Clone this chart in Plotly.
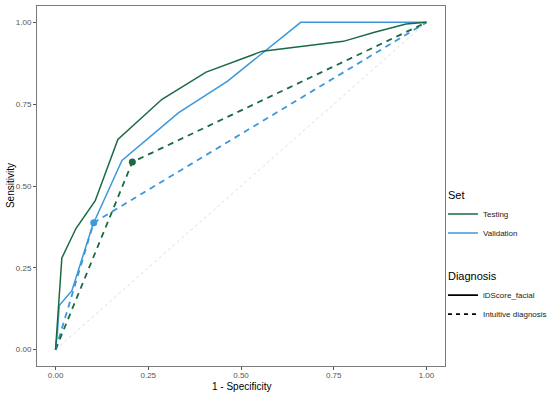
import plotly.graph_objects as go

# Testing, iDScore_facial (solid)
test_fpr = [0.0, 0.008, 0.013, 0.017, 0.055, 0.107, 0.168, 0.287, 0.406, 0.558, 0.776, 0.86, 0.945, 1.0]
test_tpr = [0.0, 0.12, 0.195, 0.28, 0.37, 0.455, 0.642, 0.765, 0.848, 0.912, 0.942, 0.97, 0.995, 1.0]
# Validation, iDScore_facial (solid)
val_fpr = [0.0, 0.005, 0.01, 0.044, 0.10, 0.179, 0.332, 0.463, 0.661, 1.0]
val_tpr = [0.0, 0.05, 0.135, 0.18, 0.38, 0.578, 0.724, 0.82, 1.0, 1.0]
# Intuitive diagnosis (dashed) with operating point
test_int_fpr = [0.0, 0.207, 1.0]
test_int_tpr = [0.0, 0.573, 1.0]
val_int_fpr = [0.0, 0.103, 1.0]
val_int_tpr = [0.0, 0.388, 1.0]
diag = [0.0, 1.0]

tickvals = [0.0, 0.25, 0.5, 0.75, 1.0]
ticktext = ["0.00", "0.25", "0.50", "0.75", "1.00"]

GREEN = "#1a6b43"
BLUE = "#3b98dc"

fig = go.Figure()
fig.add_trace(go.Scatter(x=diag, y=diag, mode="lines",
                         line=dict(color="#dedede", width=1, dash="dot"), showlegend=False))
fig.add_trace(go.Scatter(x=val_int_fpr, y=val_int_tpr, mode="lines",
                         line=dict(color=BLUE, width=1.8, dash="6px,5px"), showlegend=False))
fig.add_trace(go.Scatter(x=test_int_fpr, y=test_int_tpr, mode="lines",
                         line=dict(color=GREEN, width=1.8, dash="6px,5px"), showlegend=False))
fig.add_trace(go.Scatter(x=val_fpr, y=val_tpr, mode="lines",
                         line=dict(color=BLUE, width=1.5), showlegend=False))
fig.add_trace(go.Scatter(x=test_fpr, y=test_tpr, mode="lines",
                         line=dict(color=GREEN, width=1.5), showlegend=False))
fig.add_trace(go.Scatter(x=[val_int_fpr[1]], y=[val_int_tpr[1]], mode="markers",
                         marker=dict(color=BLUE, size=7), showlegend=False))
fig.add_trace(go.Scatter(x=[test_int_fpr[1]], y=[test_int_tpr[1]], mode="markers",
                         marker=dict(color=GREEN, size=7), showlegend=False))

# legend entries
fig.add_trace(go.Scatter(x=[None], y=[None], mode="lines", name="Testing",
                         line=dict(color=GREEN, width=1.5), legendgroup="set",
                         legendgrouptitle=dict(text="Set", font=dict(size=11, color="#000"))))
fig.add_trace(go.Scatter(x=[None], y=[None], mode="lines", name="Validation",
                         line=dict(color=BLUE, width=1.5), legendgroup="set"))
fig.add_trace(go.Scatter(x=[None], y=[None], mode="lines", name="iDScore_facial",
                         line=dict(color="#000", width=1.8), legendgroup="diag",
                         legendgrouptitle=dict(text="Diagnosis", font=dict(size=11, color="#000"))))
fig.add_trace(go.Scatter(x=[None], y=[None], mode="lines", name="Intuitive diagnosis",
                         line=dict(color="#000", width=1.8, dash="4px,4px"), legendgroup="diag"))

axis_common = dict(range=[-0.05, 1.05], tickvals=tickvals, ticktext=ticktext,
                   showgrid=False, zeroline=False, showline=True, linecolor="#7a7a7a",
                   linewidth=1, mirror=True, ticks="outside", ticklen=3, tickcolor="#555",
                   tickfont=dict(size=8, color="#555"), automargin=False)

fig.update_layout(
    width=550, height=398,
    margin=dict(l=37, r=105, t=6, b=32, autoexpand=False),
    plot_bgcolor="white", paper_bgcolor="white",
    font=dict(family="Liberation Sans, Arial, sans-serif", size=9, color="#000"),
    xaxis=dict(ticklabelstandoff=-2, **axis_common),
    yaxis=dict(**axis_common),
    legend=dict(x=0.995, xanchor="left", y=0.515, yanchor="top", traceorder="grouped",
                tracegroupgap=24, font=dict(size=8, color="#222"), itemwidth=30,
                bgcolor="rgba(0,0,0,0)"),
    annotations=[
        dict(text="1 - Specificity", xref="paper", yref="paper", x=0.5, y=-0.058,
             xanchor="center", yanchor="middle", showarrow=False, font=dict(size=10)),
        dict(text="Sensitivity", xref="paper", yref="paper", x=-0.066, y=0.5,
             xanchor="center", yanchor="middle", textangle=-90, showarrow=False,
             font=dict(size=10)),
    ],
)

fig.write_html("out.html", config={"displayModeBar": False},
               post_script="document.body.style.margin='0';")
